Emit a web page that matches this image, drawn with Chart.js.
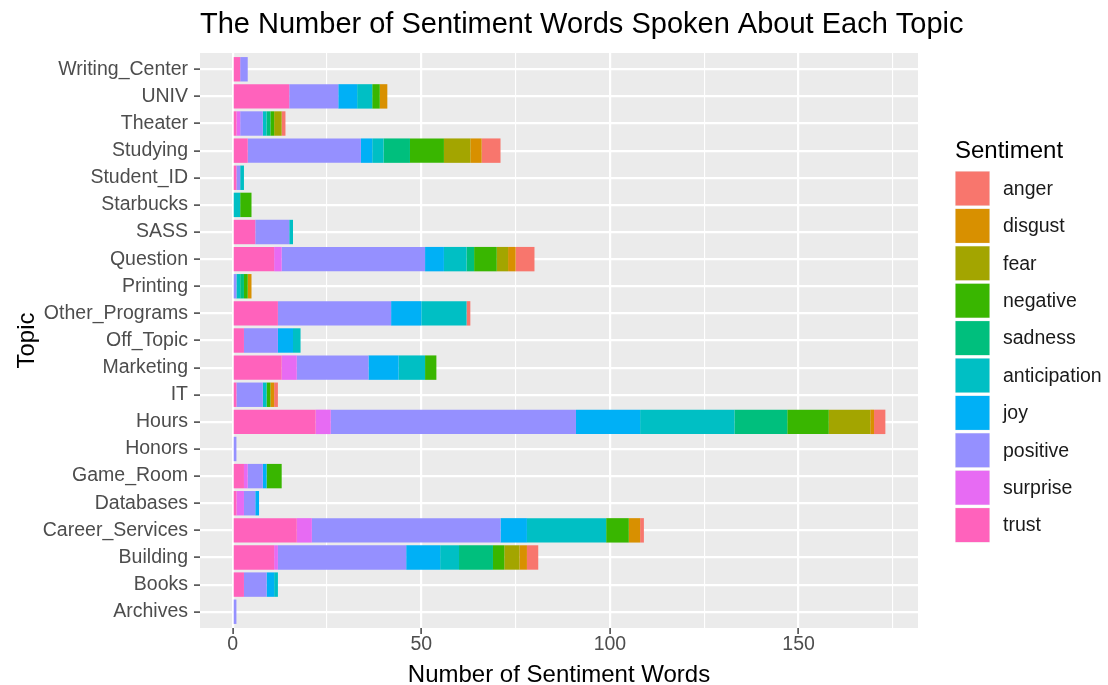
<!DOCTYPE html>
<html><head><meta charset="utf-8">
<script src="https://cdn.jsdelivr.net/npm/chart.js@4.4.1/dist/chart.umd.min.js"></script>
<style>html,body{margin:0;padding:0;background:#fff}#wrap{width:1108px;height:685px;position:relative}</style>
</head><body><div id="wrap"><canvas id="c" width="1108" height="685"></canvas></div>
<script>
// ---- data (topics listed top to bottom) ----
const topics = ["Writing_Center","UNIV","Theater","Studying","Student_ID","Starbucks","SASS","Question","Printing","Other_Programs","Off_Topic","Marketing","IT","Hours","Honors","Game_Room","Databases","Career_Services","Building","Books","Archives"];
const sentiments = ["trust","surprise","positive","joy","anticipation","sadness","negative","fear","disgust","anger"];
const trust        = [2,15,1,4,1,0,6,11,0,12,3,13,1,22,0,3,1,17,11,3,0];
const surprise     = [0,0,1,0,0,0,0,2,0,0,0,4,0,4,0,1,2,4,1,0,0];
const positive     = [2,13,6,30,1,0,9,38,1,30,9,19,7,65,1,4,3,50,34,6,1];
const joy          = [0,5,0,3,0,0,0,5,0,8,4,8,0,17,0,1,1,7,9,2,0];
const anticipation = [0,4,1,3,1,2,1,6,1,12,2,7,1,25,0,0,0,21,5,1,0];
const sadness      = [0,0,1,7,0,0,0,2,1,0,0,0,0,14,0,0,0,0,9,0,0];
const negative     = [0,2,1,9,0,3,0,6,1,0,0,3,1,11,0,4,0,6,3,0,0];
const fear         = [0,0,2,7,0,0,0,3,0,0,0,0,0,11,0,0,0,0,4,0,0];
const disgust      = [0,2,0,3,0,0,0,2,1,0,0,0,1,1,0,0,0,3,2,0,0];
const anger        = [0,0,1,5,0,0,0,5,0,1,0,0,1,3,0,0,0,1,3,0,0];
const xTickLabels  = [0,50,100,150];

const seriesValues = {trust, surprise, positive, joy, anticipation, sadness, negative, fear, disgust, anger};
const palette = {anger:"#F8766D",disgust:"#D89000",fear:"#A3A500",negative:"#39B600",sadness:"#00BF7D",
  anticipation:"#00BFC4",joy:"#00B0F6",positive:"#9590FF",surprise:"#E76BF3",trust:"#FF62BC"};

const FONT = "'Liberation Sans', Arial, Helvetica, sans-serif";

const datasets = sentiments.map(s => ({
  label: s, data: seriesValues[s], backgroundColor: palette[s], borderWidth: 0,
  barPercentage: 0.9, categoryPercentage: 1.0
}));

const panelPlugin = {
  id: 'panel',
  beforeDraw(chart) {
    const {ctx, chartArea: a} = chart;
    ctx.save();
    ctx.fillStyle = '#FFFFFF';
    ctx.fillRect(0, 0, chart.width, chart.height);
    ctx.fillStyle = '#EBEBEB';
    ctx.fillRect(a.left, a.top, a.right - a.left, a.bottom - a.top);
    ctx.restore();
  },
  afterDraw(chart) {
    const {ctx, chartArea: a} = chart;
    ctx.save();
    // title
    ctx.fillStyle = '#000';
    ctx.font = `29px ${FONT}`;
    ctx.textAlign = 'left';
    ctx.textBaseline = 'middle';
    ctx.fillText('The Number of Sentiment Words Spoken About Each Topic', a.left, 25);
    // legend
    const lx = 955, top0 = 171, step = 37.4, box = 35;
    ctx.font = `24px ${FONT}`;
    ctx.fillText('Sentiment', lx, 151);
    ctx.font = `19.5px ${FONT}`;
    const items = chart.data.datasets.slice().reverse();
    items.forEach((d, i) => {
      const y = top0 + i * step;
      ctx.fillStyle = '#F2F2F2';
      ctx.fillRect(lx, y, box, box);
      ctx.fillStyle = d.backgroundColor;
      ctx.fillRect(lx + 0.5, y + 0.5, box - 1, box - 1);
      ctx.fillStyle = '#1a1a1a';
      ctx.fillText(d.label, 1003, y + box / 2 + 1);
    });
    ctx.restore();
  }
};

new Chart(document.getElementById('c'), {
  type: 'bar',
  data: { labels: topics, datasets },
  options: {
    indexAxis: 'y',
    responsive: false,
    devicePixelRatio: 1,
    animation: false,
    layout: { padding: { top: 53, right: 190, left: 0, bottom: 0 }, autoPadding: false },
    plugins: { legend: { display: false }, title: { display: false }, tooltip: { enabled: false } },
    scales: {
      x: {
        type: 'linear', stacked: true, min: -8.65, max: 181.65,
        border: { display: false },
        grid: {
          color: '#FFFFFF',
          lineWidth: c => (c.tick && c.tick.value % 50 === 0) ? 2.2 : 1.1,
          tickColor: c => (c.tick && xTickLabels.includes(c.tick.value)) ? '#333333' : 'rgba(0,0,0,0)',
          tickLength: 6, tickWidth: 1.4
        },
        ticks: {
          stepSize: 25, includeBounds: false, autoSkip: false, maxRotation: 0, padding: -1,
          color: '#4D4D4D', font: { family: FONT, size: 19.5 },
          callback: v => xTickLabels.includes(v) ? String(v) : ''
        },
        title: { display: true, text: 'Number of Sentiment Words', color: '#000',
          font: { family: FONT, size: 24, lineHeight: 1.0 }, padding: { top: 0, bottom: -2 } },
        afterFit: s => { s.height = 57; }
      },
      y: {
        type: 'category', stacked: true, offset: true,
        border: { display: false },
        grid: { color: '#FFFFFF', lineWidth: 2.2, offset: false, tickColor: '#333333', tickLength: 6, tickWidth: 1.4 },
        ticks: { autoSkip: false, padding: 6, color: '#4D4D4D', font: { family: FONT, size: 19.5 } },
        title: { display: true, text: 'Topic', color: '#000',
          font: { family: FONT, size: 24, lineHeight: 1.0 }, padding: { top: 15, bottom: 0 } },
        afterFit: s => { s.width = 200; },
        afterBuildTicks: s => { s._startValue -= 0.1; s._valueRange += 0.2; }
      }
    }
  },
  plugins: [panelPlugin]
});
</script></body></html>
